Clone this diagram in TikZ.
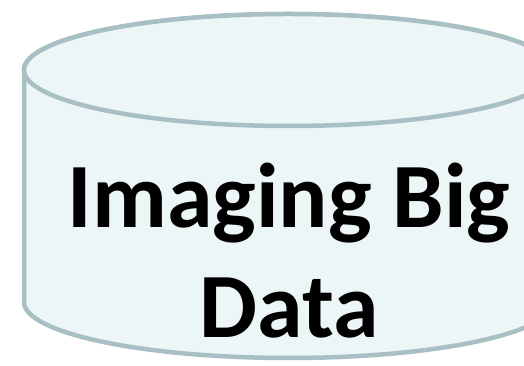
\documentclass[tikz,border=0pt]{standalone}
\usepackage{fontspec}
\setmainfont{Carlito}

\definecolor{dbfill}{HTML}{EDF6F7}
\definecolor{dbline}{HTML}{A8C0C3}

\begin{document}
\begin{tikzpicture}[x=1pt,y=1pt,
  db/.style={draw=dbline,line width=4.5pt,fill=dbfill}]

\useasboundingbox (0,0) rectangle (524,366);
\clip (0,0) rectangle (524,366);

% body of the cylinder, then its lid
\draw[db] (24,296) -- (24,64) arc[start angle=180,end angle=360,x radius=265,y radius=56]
  -- (554,296) arc[start angle=0,end angle=180,x radius=265,y radius=56] -- cycle;
\draw[db] (289,296) ellipse[x radius=265,y radius=56];

\node[align=center,inner sep=0pt,font=\fontsize{92}{110}\selectfont\bfseries](label) at (289,115) {Imaging Big\\Data};

\end{tikzpicture}
\end{document}
